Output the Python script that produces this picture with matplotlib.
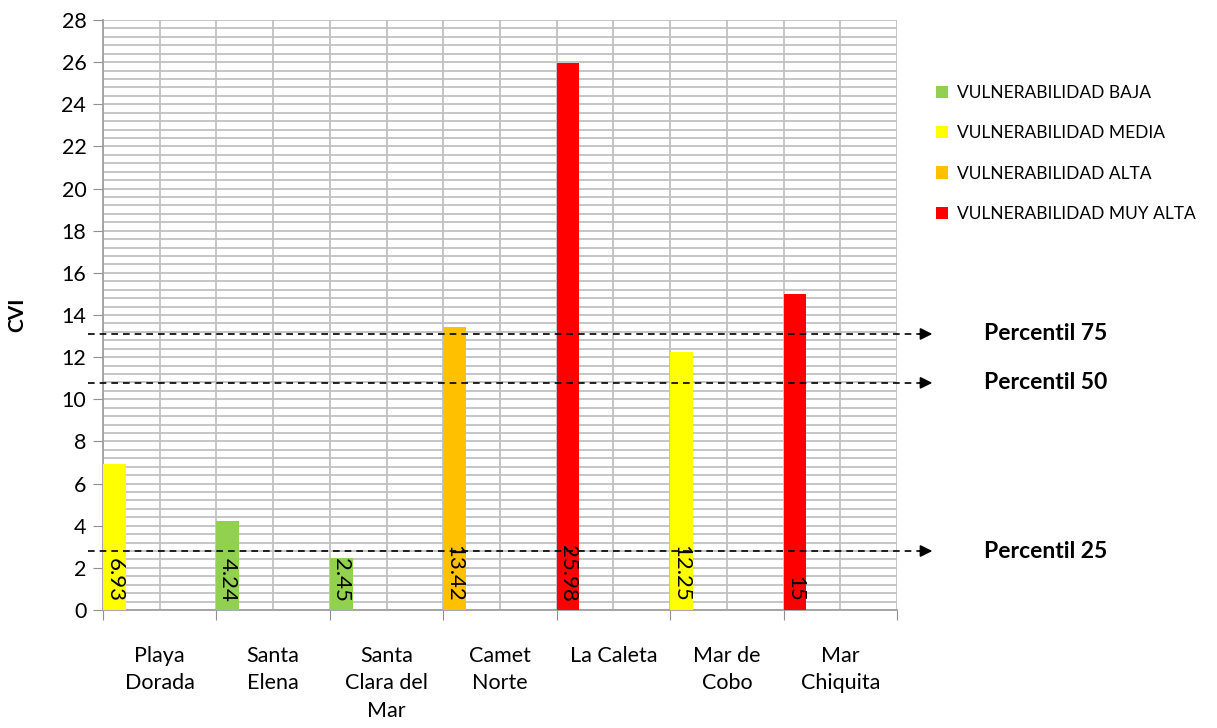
import matplotlib
matplotlib.use("Agg")
import matplotlib.pyplot as plt
from matplotlib.patches import Patch
from matplotlib.ticker import MultipleLocator, FixedLocator
import matplotlib.transforms as mtransforms

plt.rcParams['font.family'] = ['Lato', 'DejaVu Sans']

# data
localidades = ["Playa\nDorada", "Santa\nElena", "Santa\nClara del\nMar", "Camet\nNorte",
               "La Caleta", "Mar de\nCobo", "Mar\nChiquita"]
cvi = [6.93, 4.24, 2.45, 13.42, 25.98, 12.25, 15]
cvi_labels = ["6.93", "4.24", "2.45", "13.42", "25.98", "12.25", "15"]
clase = ["media", "baja", "baja", "alta", "muy alta", "media", "muy alta"]

clases = ["baja", "media", "alta", "muy alta"]
clase_nombres = ["VULNERABILIDAD BAJA", "VULNERABILIDAD MEDIA",
                 "VULNERABILIDAD ALTA", "VULNERABILIDAD MUY ALTA"]
clase_colores = ["#92D050", "#FFFF00", "#FFC000", "#FF0000"]

percentiles = [13.1, 10.78, 2.8]
percentil_labels = ["Percentil 75", "Percentil 50", "Percentil 25"]

color_de = dict(zip(clases, clase_colores))

fig = plt.figure(figsize=(12.17, 7.28), dpi=100)
ax = fig.add_axes([103 / 1217, 1 - 610 / 728, 794 / 1217, 590 / 728])

xs = [i + 0.1 for i in range(len(cvi))]
ax.bar(xs, cvi, width=0.2, color=[color_de[c] for c in clase], zorder=3)

for x, v, lab in zip(xs, cvi, cvi_labels):
    ax.text(x, 0.4, lab, rotation=270, ha="center", va="bottom",
            fontsize=16, zorder=4)

ax.set_xlim(0, len(cvi))
ax.set_ylim(0, 28)

ax.xaxis.set_major_locator(FixedLocator(range(len(cvi) + 1)))
ax.xaxis.set_minor_locator(FixedLocator([i + 0.5 for i in range(len(cvi))]))
ax.set_xticklabels([], minor=False)
ax.set_xticklabels(localidades, minor=True, fontsize=15.5, linespacing=1.45, va="top")
ax.tick_params(axis="x", which="major", length=7, color="#909090", direction="out")
ax.tick_params(axis="x", which="minor", length=0, pad=26)

ax.yaxis.set_major_locator(MultipleLocator(2))
ax.yaxis.set_minor_locator(MultipleLocator(0.4))
ax.tick_params(axis="y", which="major", length=7, color="#909090", labelsize=15.5, pad=5)
ax.tick_params(axis="y", which="minor", length=0)

ax.grid(True, which="both", color="#c0c0c0", linewidth=1.3, zorder=0)
ax.set_axisbelow(True)
for s in ["top", "right"]:
    ax.spines[s].set_visible(False)
for s in ["left", "bottom"]:
    ax.spines[s].set_color("#a0a0a0")
    ax.spines[s].set_linewidth(1.3)

ax.set_ylabel("CVI", fontsize=15, fontweight="bold")
ax.yaxis.set_label_coords(-0.096, 0.5)

# percentile dashed lines with arrows
trans = mtransforms.blended_transform_factory(ax.transAxes, ax.transData)
for p, lab in zip(percentiles, percentil_labels):
    ax.plot([-0.019, 1.035], [p, p], transform=trans, color="black", lw=1.2,
            ls=(0, (4, 3)), clip_on=False, zorder=5)
    ax.annotate("", xy=(1.048, p), xytext=(1.025, p), xycoords=trans, textcoords=trans,
                arrowprops=dict(arrowstyle="-|>", color="black", lw=1.2, mutation_scale=18),
                annotation_clip=False)
    ax.text(1.109, p, lab, transform=trans, fontsize=16.5, fontweight="bold",
            va="center", ha="left")

handles = [Patch(facecolor=c, edgecolor="none") for c in clase_colores]
fig.legend(handles, clase_nombres, loc="upper left", bbox_to_anchor=(929 / 1217, 1 - 78 / 728),
           frameon=False, fontsize=12.5, handlelength=0.7, handleheight=0.7,
           handletextpad=0.5, labelspacing=1.4, borderaxespad=0)

fig.savefig("out.png", dpi=100)
